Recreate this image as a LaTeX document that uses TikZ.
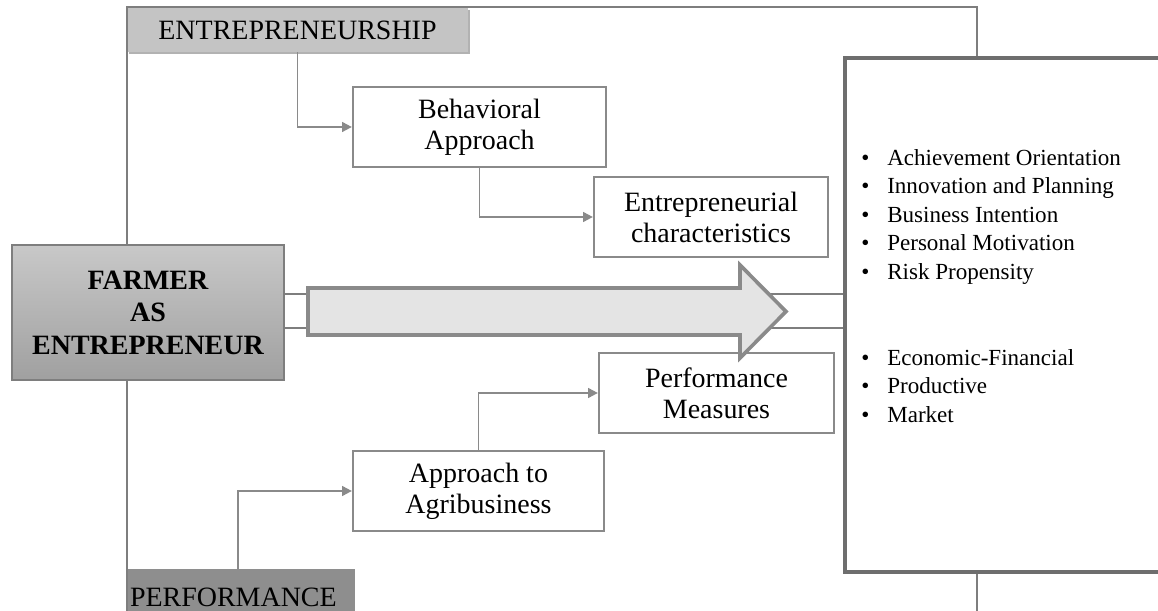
\documentclass[tikz,border=0pt]{standalone}
\usepackage{fontspec}
\setmainfont{Liberation Serif}
\usetikzlibrary{arrows.meta}
\definecolor{linegray}{HTML}{8A8A8A}
\definecolor{framegray}{HTML}{7E7E7E}
\definecolor{headgray}{HTML}{C4C4C4}
\definecolor{perfgray}{HTML}{8E8E8E}
\definecolor{rboxgray}{HTML}{6E6E6E}
\definecolor{farmtop}{HTML}{C8C8C8}
\definecolor{farmbot}{HTML}{A0A0A0}
\definecolor{flowfill}{HTML}{E4E4E4}
\tikzset{
  box/.style={draw=linegray, line width=1.6pt, fill=white, align=center, inner sep=0pt, minimum height=2cm, font=\fontsize{19.9}{22}\selectfont},
  tag/.style={inner sep=0pt, minimum height=1.1cm, font=\fontsize{19.9}{22}\selectfont},
  link/.style={draw=linegray, line width=1.4pt, -{Triangle[length=7pt,width=7pt]}},
  frame/.style={draw=framegray, line width=1.3pt},
  items/.style={align=left, inner sep=0pt, anchor=north west, font=\fontsize{16.4}{20.3}\selectfont},
  bigarrow/.style={draw=linegray, line width=2.6pt, fill=flowfill, line join=miter}
}
\newcommand{\itm}[1]{\makebox[18.5pt][l]{\textbullet}#1}

\begin{document}
\begin{tikzpicture}
\useasboundingbox (0,0) rectangle (28.95,15.275);
\clip (0,0) rectangle (28.95,15.275);
% frame corners
\coordinate (tl) at (3.175,15.1);
\coordinate (tr) at (24.425,15.1);
\coordinate (bl) at (3.175,0);
\coordinate (br) at (24.425,0);
\coordinate (hi) at (0,7.925);
\coordinate (lo) at (0,7.075);

\node[draw=rboxgray, line width=2.8pt, fill=white, minimum width=8.375cm, minimum height=12.85cm] (rbox) at (25.3125,7.4) {};
\fill[gray!60] (3.225,13.925) rectangle (11.75,15.025);
\node[tag, fill=headgray, minimum width=8.525cm] (ent) at (7.4375,14.525) {ENTREPRENEURSHIP};
\node[box, minimum width=6.325cm] (behav) at (11.9875,12.1) {Behavioral\\Approach};
\node[box, minimum width=5.85cm] (echar) at (17.775,9.85) {Entrepreneurial\\characteristics};
\node[draw=framegray, line width=1.4pt, top color=farmtop, bottom color=farmbot, minimum width=6.8cm, minimum height=3.375cm, align=center, font=\bfseries\fontsize{19.9}{23.1}\selectfont] (farmer) at (3.7,7.4625) {FARMER\\AS\\ENTREPRENEUR};
\node[box, minimum width=5.875cm] (pmeas) at (17.9125,5.45) {Performance\\Measures};
\node[box, minimum width=6.275cm] (agri) at (11.9625,3.0) {Approach to\\Agribusiness};
\node[tag, fill=perfgray, minimum height=1.4cm, text width=5.55cm, inner xsep=0.075cm, align=left] (perf) at (6.025,0.35) {PERFORMANCE};

\node[items] (traits) at (21.525,11.55) {\itm{Achievement Orientation}\\\itm{Innovation and Planning}\\\itm{Business Intention}\\\itm{Personal Motivation}\\\itm{Risk Propensity}};
\node[items] (measures) at (21.525,6.55) {\itm{Economic-Financial}\\\itm{Productive}\\\itm{Market}};

% outer frame
\draw[frame] (tl |- farmer.north) -- (tl) -- (tr) -- (tr |- rbox.north);
\draw[frame] (bl |- farmer.south) -- (bl);
\draw[frame] (br |- rbox.south) -- (br);
\draw[frame] (farmer.east |- hi) -- (rbox.west |- hi);
\draw[frame] (farmer.east |- lo) -- (rbox.west |- lo);

% big arrow
\draw[bigarrow] (7.7,8.075) -- (18.5,8.075) -- (18.5,8.65) -- (19.65,7.4875) -- (18.5,6.325) -- (18.5,6.9) -- (7.7,6.9) -- cycle;

\draw[link] (ent.south) |- (behav.west);
\draw[link] (behav.south) |- (echar.west);
\draw[link] ([xshift=-0.075cm]perf.north) |- (agri.west);
\draw[link] (agri.north) |- (pmeas.west);
\end{tikzpicture}
\end{document}
